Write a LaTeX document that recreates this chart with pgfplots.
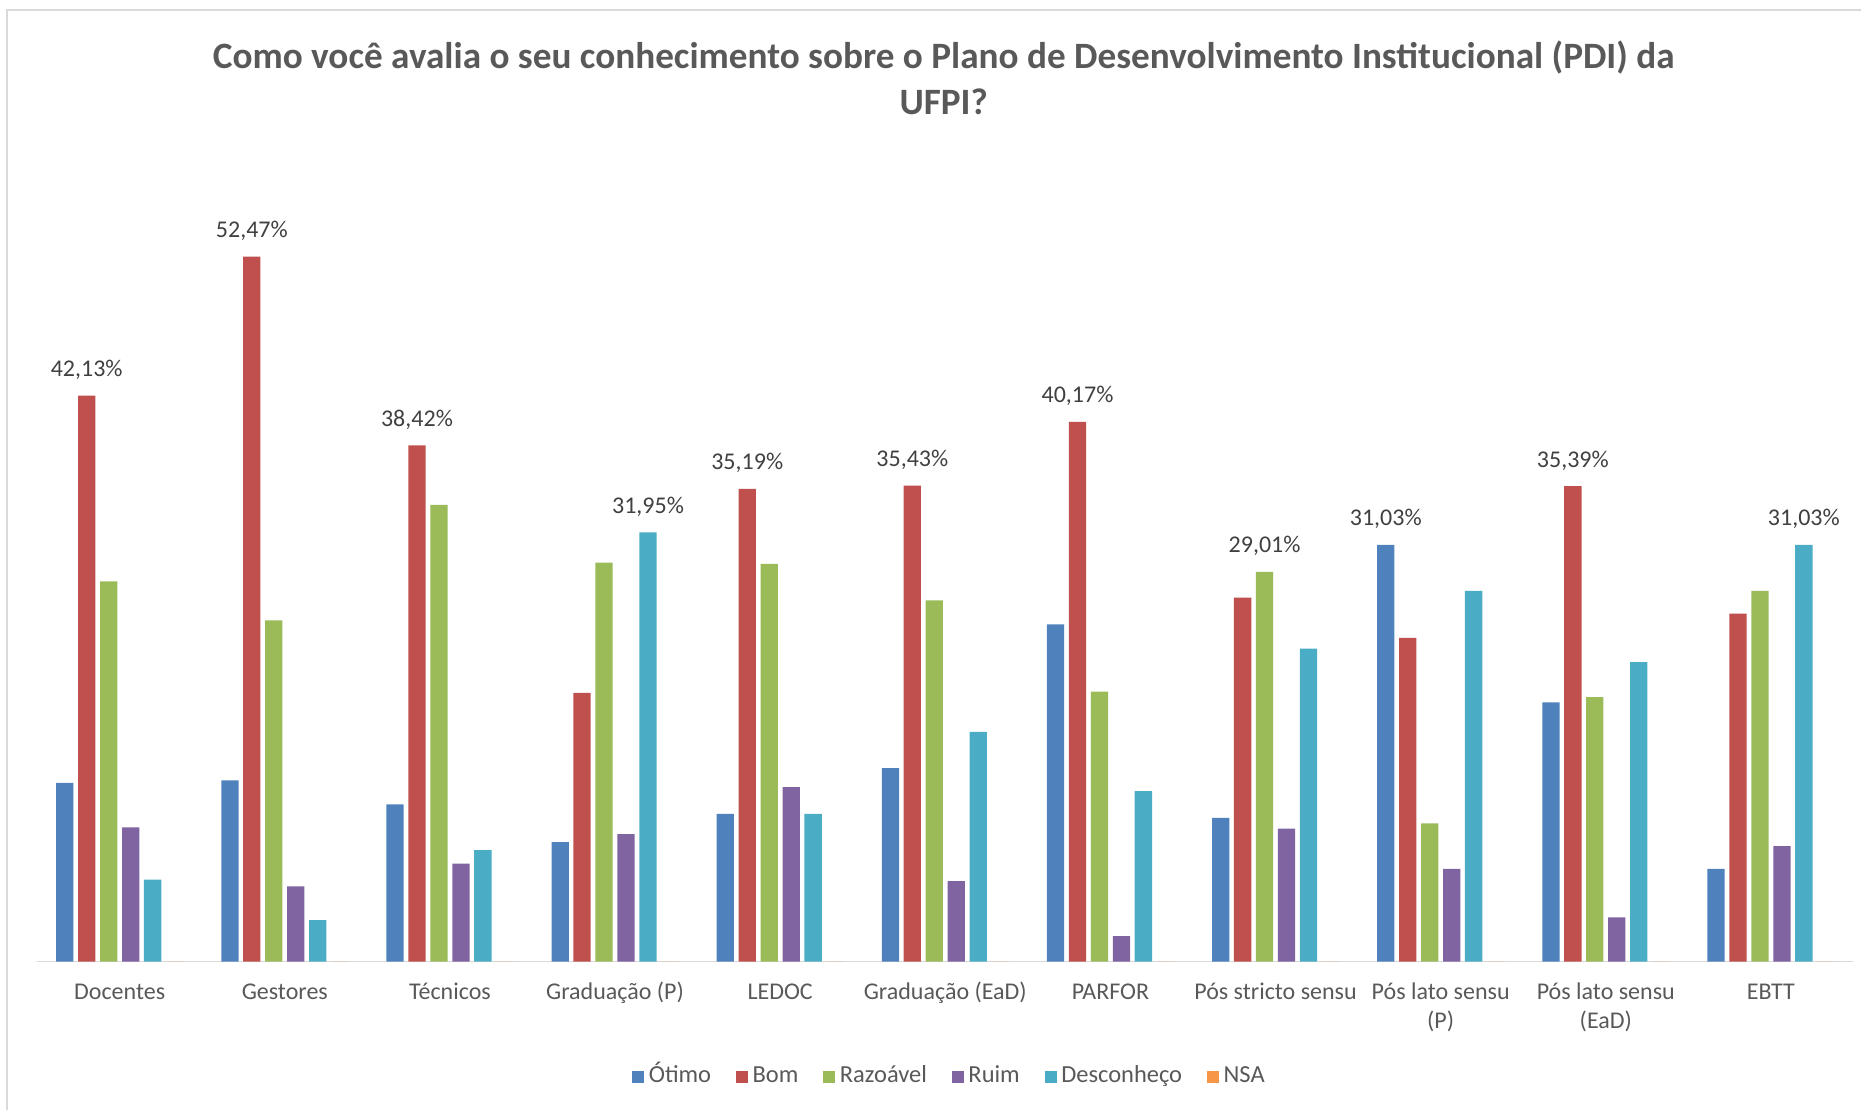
\documentclass[border=0pt]{standalone}
\usepackage{pgfplots}
\pgfplotsset{compat=1.18}
\usepackage{pgfplotstable}
\usepackage{fontspec}
\setmainfont{Carlito}

\definecolor{cOt}{HTML}{4F81BD}
\definecolor{cBo}{HTML}{C0504D}
\definecolor{cRa}{HTML}{9BBB59}
\definecolor{cRu}{HTML}{8064A2}
\definecolor{cDe}{HTML}{4BACC6}
\definecolor{cNs}{HTML}{F79646}
\definecolor{ttl}{HTML}{595959}
\definecolor{lbl}{HTML}{595959}
\definecolor{dlab}{HTML}{404040}
\definecolor{gridc}{HTML}{D9D9D9}

% x = category index, y = percent, l = data label (only the highest bar of each group)
\pgfplotstableread[row sep=\\]{
x y l\\
0 13.3 {}\\
1 13.5 {}\\
2 11.7 {}\\
3 8.9 {}\\
4 11.0 {}\\
5 14.4 {}\\
6 25.1 {}\\
7 10.7 {}\\
8 31.03 31,03\%\\
9 19.3 {}\\
10 6.9 {}\\
}\otimo
\pgfplotstableread[row sep=\\]{
x y l\\
0 42.13 42,13\%\\
1 52.47 52,47\%\\
2 38.42 38,42\%\\
3 20.0 {}\\
4 35.19 35,19\%\\
5 35.43 35,43\%\\
6 40.17 40,17\%\\
7 27.1 {}\\
8 24.1 {}\\
9 35.39 35,39\%\\
10 25.9 {}\\
}\bom
\pgfplotstableread[row sep=\\]{
x y l\\
0 28.3 {}\\
1 25.4 {}\\
2 34.0 {}\\
3 29.7 {}\\
4 29.6 {}\\
5 26.9 {}\\
6 20.1 {}\\
7 29.01 29,01\%\\
8 10.3 {}\\
9 19.7 {}\\
10 27.6 {}\\
}\razoavel
\pgfplotstableread[row sep=\\]{
x y\\
0 10.0\\
1 5.6\\
2 7.3\\
3 9.5\\
4 13.0\\
5 6.0\\
6 1.9\\
7 9.9\\
8 6.9\\
9 3.3\\
10 8.6\\
}\ruim
\pgfplotstableread[row sep=\\]{
x y l\\
0 6.1 {}\\
1 3.1 {}\\
2 8.3 {}\\
3 31.95 31,95\%\\
4 11.0 {}\\
5 17.1 {}\\
6 12.7 {}\\
7 23.3 {}\\
8 27.6 {}\\
9 22.3 {}\\
10 31.03 31,03\%\\
}\descon
\pgfplotstableread[row sep=\\]{
x y\\
0 0\\ 1 0\\ 2 0\\ 3 0\\ 4 0\\ 5 0\\ 6 0\\ 7 0\\ 8 0\\ 9 0\\ 10 0\\
}\nsa

\begin{document}
\begin{tikzpicture}
\path[use as bounding box] (0,0) rectangle (775.4pt,462.5pt);
\draw[gridc, line width=0.8pt] (2.9pt,0) -- (2.9pt,458.3pt) -- (775.4pt,458.3pt);
\node[align=center, font=\fontsize{15.5}{19.3}\selectfont\bfseries, text=ttl]
  at (393.2pt,430.1pt)
  {Como você avalia o seu conhecimento sobre o Plano de Desenvolvimento Institucional (PDI) da\\UFPI?};
\begin{axis}[
  at={(15.46pt,61.8pt)}, anchor=south west,
  scale only axis, width=756.8pt, height=335.9pt,
  xmin=-0.5, xmax=10.5, ymin=0, ymax=60,
  ybar=1.95pt, bar width=7.2pt,
  axis y line=none, axis x line=bottom,
  x axis line style={-, draw=gridc, line width=0.6pt},
  xtick={0,...,10},
  xticklabels={Docentes, Gestores, Técnicos, Graduação (P), LEDOC, Graduação (EaD), PARFOR, Pós stricto sensu, {Pós lato sensu\\(P)}, {Pós lato sensu\\(EaD)}, EBTT},
  major tick length=0pt, xtick style={draw=none},
  typeset ticklabels with strut,
  xticklabel style={font=\fontsize{10}{11.9}\selectfont, text=lbl, align=center, yshift=-4pt},
  every node near coord/.append style={font=\fontsize{10}{12}\selectfont, text=dlab, anchor=base, yshift=7.9pt},
  legend image code/.code={\fill[#1] (0pt,-0.3pt) rectangle (5pt,4.7pt);},
  legend columns=6,
  legend style={draw=none, fill=none, at={(0.503,-0.1414)}, anchor=center,
    font=\fontsize{10.2}{12}\selectfont, text=lbl,
    nodes={anchor=base west, text height=7.5pt, text depth=2pt},
    /tikz/every even column/.append style={column sep=8.3pt}},
  clip=false,
]
\addplot[fill=cOt, draw=none, nodes near coords, point meta=explicit symbolic] table[x=x, y=y, meta=l] {\otimo};
\addplot[fill=cBo, draw=none, nodes near coords, point meta=explicit symbolic] table[x=x, y=y, meta=l] {\bom};
\addplot[fill=cRa, draw=none, nodes near coords, point meta=explicit symbolic] table[x=x, y=y, meta=l] {\razoavel};
\addplot[fill=cRu, draw=none] table[x=x, y=y] {\ruim};
\addplot[fill=cDe, draw=none, nodes near coords, point meta=explicit symbolic] table[x=x, y=y, meta=l] {\descon};
\addplot[fill=cNs, draw=none] table[x=x, y=y] {\nsa};
\legend{Ótimo, Bom, Razoável, Ruim, Desconheço, NSA}
\end{axis}
\end{tikzpicture}
\end{document}
